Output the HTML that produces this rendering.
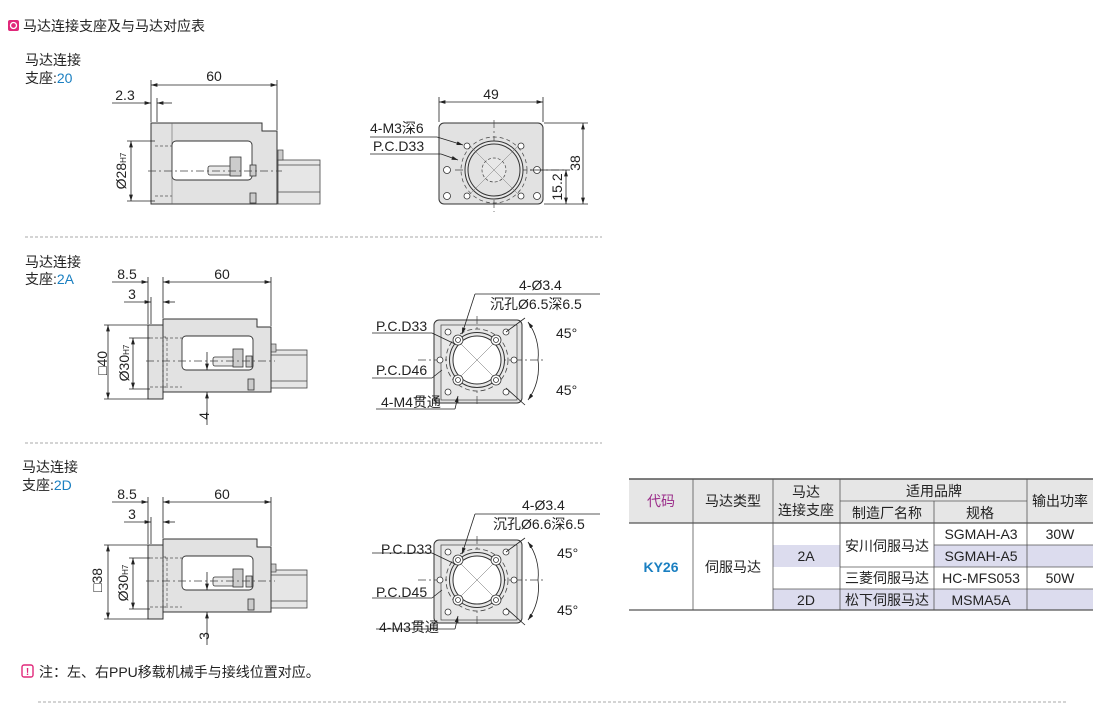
<!DOCTYPE html>
<html><head><meta charset="utf-8"><style>
html,body{margin:0;padding:0;background:#fff;}
body{width:1110px;height:715px;position:relative;overflow:hidden;font-family:"Liberation Sans","Noto Sans CJK SC",sans-serif;color:#222;}
svg{position:absolute;left:0;top:0;}
text{font-family:"Liberation Sans","Noto Sans CJK SC",sans-serif;fill:#222;}
</style></head><body>
<svg width="1110" height="715" viewBox="0 0 1110 715">
<defs>
<marker id="a" viewBox="0 0 10 6" refX="10" refY="3" markerWidth="8" markerHeight="5" orient="auto-start-reverse"><path d="M0,0L10,3L0,6z" fill="#222"/></marker>
<g id="side2">
  <!-- tube -->
  <rect x="271" y="350" width="36" height="38" fill="#e6e6e6" stroke="#444" stroke-width="0.8"/>
  <line x1="271" y1="355" x2="307" y2="355" stroke="#444" stroke-width="0.7"/>
  <line x1="271" y1="381" x2="307" y2="381" stroke="#444" stroke-width="0.7"/>
  <rect x="271" y="344" width="5" height="8" fill="#ccc" stroke="#444" stroke-width="0.7"/>
  <!-- flange -->
  <rect x="148" y="325" width="15" height="74" fill="#e2e2e2" stroke="#333" stroke-width="1"/>
  <!-- body -->
  <path d="M163,319 H257 V327 H271 V392 H163 Z" fill="#e2e2e2" stroke="#333" stroke-width="1"/>
  <rect x="182" y="336" width="71" height="34" rx="4" fill="#fff" stroke="#333" stroke-width="0.9"/>
  <line x1="150" y1="338" x2="182" y2="338" stroke="#555" stroke-width="0.8" stroke-dasharray="3,2"/>
  <line x1="150" y1="387" x2="182" y2="387" stroke="#555" stroke-width="0.8" stroke-dasharray="3,2"/>
  <rect x="163" y="337" width="4" height="50" fill="none" stroke="#555" stroke-width="0.7" stroke-dasharray="3,2"/>
  <rect x="213" y="357" width="22" height="9" rx="2" fill="#e8e8e8" stroke="#333" stroke-width="0.8"/>
  <rect x="233" y="349" width="10" height="18" fill="#ccc" stroke="#333" stroke-width="0.8"/>
  <rect x="246" y="356" width="6" height="11" fill="#ccc" stroke="#333" stroke-width="0.8"/>
  <rect x="248" y="379" width="6" height="11" fill="#ccc" stroke="#333" stroke-width="0.8"/>
  <line x1="146" y1="361" x2="275" y2="361" stroke="#444" stroke-width="0.8" stroke-dasharray="8,3,2,3"/>
  <!-- dims -->
  <g stroke="#222" stroke-width="0.8" fill="none">
    <line x1="148" y1="277" x2="148" y2="324"/><line x1="163" y1="277" x2="163" y2="318"/>
    <line x1="271" y1="277" x2="271" y2="326"/><line x1="151" y1="297" x2="151" y2="324"/>
    <line x1="112" y1="282" x2="148" y2="282" marker-end="url(#a)"/>
    <line x1="163" y1="282" x2="271" y2="282" marker-start="url(#a)" marker-end="url(#a)"/>
    <line x1="124" y1="302" x2="151" y2="302" marker-end="url(#a)"/>
    <line x1="175" y1="302" x2="163" y2="302" marker-end="url(#a)"/>
    <line x1="104" y1="325" x2="148" y2="325"/><line x1="104" y1="399" x2="148" y2="399"/>
    <line x1="108" y1="325" x2="108" y2="399" marker-start="url(#a)" marker-end="url(#a)"/>
    <line x1="129" y1="338" x2="150" y2="338"/><line x1="129" y1="389" x2="150" y2="389"/>
    <line x1="133" y1="338" x2="133" y2="389" marker-start="url(#a)" marker-end="url(#a)"/>
    <line x1="207" y1="352" x2="207" y2="370" marker-end="url(#a)"/>
    <line x1="207" y1="425" x2="207" y2="392" marker-end="url(#a)"/>
  </g>
  <!-- front view -->
  <rect x="434" y="320" width="88" height="83" rx="5" fill="#e2e2e2" stroke="#333" stroke-width="1"/>
  <rect x="441" y="325" width="76" height="75" fill="#e8e8e8" stroke="#444" stroke-width="0.7"/>
  <line x1="418" y1="360" x2="545" y2="360" stroke="#444" stroke-width="0.7" stroke-dasharray="8,3,2,3"/>
  <line x1="477" y1="316" x2="477" y2="407" stroke="#444" stroke-width="0.7" stroke-dasharray="8,3,2,3"/>
  <circle cx="477" cy="360" r="31" fill="none" stroke="#444" stroke-width="0.8" stroke-dasharray="5,3"/>
  <circle cx="477" cy="360" r="27.5" fill="#e8e8e8" stroke="#333" stroke-width="1"/>
  <circle cx="477" cy="360" r="24" fill="#fff" stroke="#333" stroke-width="1"/>
  <g stroke="#666" stroke-width="0.5"><line x1="460" y1="343" x2="494" y2="377"/><line x1="494" y1="343" x2="460" y2="377"/></g>
  <g fill="#fff" stroke="#333" stroke-width="0.8">
    <circle cx="458" cy="340" r="5"/><circle cx="496" cy="340" r="5"/><circle cx="458" cy="380" r="5"/><circle cx="496" cy="380" r="5"/>
    <circle cx="458" cy="340" r="2.5"/><circle cx="496" cy="340" r="2.5"/><circle cx="458" cy="380" r="2.5"/><circle cx="496" cy="380" r="2.5"/>
    <circle cx="448" cy="332" r="3"/><circle cx="506" cy="332" r="3"/><circle cx="448" cy="392" r="3"/><circle cx="506" cy="392" r="3"/>
    <circle cx="440" cy="360" r="3"/><circle cx="514" cy="360" r="3"/>
  </g>
  <g stroke="#222" stroke-width="0.8" fill="none">
    <line x1="475" y1="294" x2="600" y2="294"/><line x1="475" y1="294" x2="462" y2="334" marker-end="url(#a)"/>
    <line x1="372" y1="333" x2="432" y2="333"/><line x1="432" y1="333" x2="455" y2="344"/>
    <line x1="372" y1="378" x2="432" y2="378"/><line x1="432" y1="378" x2="442" y2="370"/>
    <line x1="376" y1="409" x2="455" y2="409"/><line x1="455" y1="409" x2="458" y2="396" marker-end="url(#a)"/>
    <line x1="506" y1="332" x2="525" y2="318"/><line x1="506" y1="388" x2="525" y2="405"/>
    <path d="M528,322 A55,55 0 0 1 538,360" marker-start="url(#a)"/>
    <path d="M538,360 A55,55 0 0 1 528,400" marker-end="url(#a)"/>
  </g>
</g>
</defs>

<!-- header -->
<rect x="8" y="20" width="11" height="11" rx="2" fill="#e0287a"/>
<circle cx="13.5" cy="25.5" r="3" fill="none" stroke="#fff" stroke-width="1.3"/>
<text x="23" y="31" font-size="14">马达连接支座及与马达对应表</text>

<!-- section 1 -->
<text x="25" y="65" font-size="14">马达连接</text>
<text x="25" y="83" font-size="14">支座:<tspan fill="#1a7fc1">20</tspan></text>
<rect x="278" y="160" width="42" height="44" fill="#e6e6e6" stroke="#444" stroke-width="0.8"/>
<line x1="278" y1="165" x2="320" y2="165" stroke="#444" stroke-width="0.7"/>
<line x1="278" y1="192" x2="320" y2="192" stroke="#444" stroke-width="0.7"/>
<rect x="278" y="150" width="5" height="10" fill="#ccc" stroke="#444" stroke-width="0.7"/>
<path d="M151,123 H262 V131 H277 V204 H151 Z" fill="#e2e2e2" stroke="#333" stroke-width="1"/>
<line x1="172" y1="123" x2="172" y2="204" stroke="#666" stroke-width="0.6"/>
<rect x="172" y="141" width="80" height="39" rx="4" fill="#fff" stroke="#333" stroke-width="0.9"/>
<line x1="155" y1="146" x2="172" y2="146" stroke="#555" stroke-width="0.8" stroke-dasharray="3,2"/>
<line x1="155" y1="196" x2="172" y2="196" stroke="#555" stroke-width="0.8" stroke-dasharray="3,2"/>
<rect x="208" y="166" width="24" height="9" rx="2" fill="#e8e8e8" stroke="#333" stroke-width="0.8"/>
<rect x="230" y="157" width="11" height="19" fill="#ccc" stroke="#333" stroke-width="0.8"/>
<rect x="250" y="165" width="6" height="11" fill="#ccc" stroke="#333" stroke-width="0.8"/>
<rect x="250" y="193" width="6" height="10" fill="#ccc" stroke="#333" stroke-width="0.8"/>
<line x1="148" y1="171" x2="282" y2="171" stroke="#444" stroke-width="0.8" stroke-dasharray="8,3,2,3"/>
<g stroke="#222" stroke-width="0.8" fill="none">
  <line x1="151" y1="80" x2="151" y2="122"/><line x1="277" y1="80" x2="277" y2="130"/><line x1="157" y1="98" x2="157" y2="122"/>
  <line x1="151" y1="85" x2="277" y2="85" marker-start="url(#a)" marker-end="url(#a)"/>
  <line x1="112" y1="103" x2="151" y2="103" marker-end="url(#a)"/>
  <line x1="172" y1="103" x2="157" y2="103" marker-end="url(#a)"/>
  <line x1="127" y1="141" x2="155" y2="141"/><line x1="127" y1="201" x2="155" y2="201"/>
  <line x1="131" y1="141" x2="131" y2="201" marker-start="url(#a)" marker-end="url(#a)"/>
</g>
<text x="214" y="81" font-size="14" text-anchor="middle">60</text>
<text x="125" y="100" font-size="14" text-anchor="middle">2.3</text>
<text transform="translate(126,171) rotate(-90)" font-size="14" text-anchor="middle">Ø28<tspan font-size="8">H7</tspan></text>
<!-- front 1 -->
<rect x="439" y="123" width="104" height="81" rx="5" fill="#e2e2e2" stroke="#333" stroke-width="1"/>
<line x1="455" y1="170" x2="565" y2="170" stroke="#444" stroke-width="0.7" stroke-dasharray="8,3,2,3"/>
<line x1="494" y1="120" x2="494" y2="212" stroke="#444" stroke-width="0.7" stroke-dasharray="8,3,2,3"/>
<circle cx="494" cy="170" r="33" fill="none" stroke="#444" stroke-width="0.7" stroke-dasharray="4,3"/>
<circle cx="494" cy="170" r="29" fill="#e8e8e8" stroke="#333" stroke-width="1"/>
<circle cx="494" cy="170" r="26" fill="#e2e2e2" stroke="#333" stroke-width="1"/>
<circle cx="494" cy="170" r="12" fill="#e8e8e8" stroke="#444" stroke-width="0.7" stroke-dasharray="3,2"/>
<g stroke="#777" stroke-width="0.5"><line x1="470" y1="146" x2="518" y2="194"/><line x1="518" y1="146" x2="470" y2="194"/></g>
<g fill="#fff" stroke="#333" stroke-width="0.8">
  <circle cx="467" cy="146" r="3"/><circle cx="521" cy="146" r="3"/><circle cx="467" cy="196" r="3"/><circle cx="521" cy="196" r="3"/>
  <circle cx="447" cy="170" r="3.5"/><circle cx="537" cy="170" r="3.5"/><circle cx="447" cy="196" r="3.5"/><circle cx="537" cy="196" r="3.5"/>
</g>
<g stroke="#222" stroke-width="0.8" fill="none">
  <line x1="439" y1="97" x2="439" y2="122"/><line x1="543" y1="97" x2="543" y2="122"/>
  <line x1="439" y1="102" x2="543" y2="102" marker-start="url(#a)" marker-end="url(#a)"/>
  <line x1="544" y1="123" x2="588" y2="123"/><line x1="544" y1="204" x2="588" y2="204"/><line x1="530" y1="170" x2="570" y2="170"/>
  <line x1="583" y1="123" x2="583" y2="204" marker-start="url(#a)" marker-end="url(#a)"/>
  <line x1="566" y1="170" x2="566" y2="204" marker-start="url(#a)" marker-end="url(#a)"/>
  <line x1="370" y1="137" x2="437" y2="137"/><line x1="437" y1="137" x2="463" y2="145" marker-end="url(#a)"/>
  <line x1="370" y1="154" x2="441" y2="154"/><line x1="441" y1="154" x2="458" y2="160" marker-end="url(#a)"/>
</g>
<text x="491" y="99" font-size="14" text-anchor="middle">49</text>
<text transform="translate(580,163) rotate(-90)" font-size="14" text-anchor="middle">38</text>
<text transform="translate(562,187) rotate(-90)" font-size="14" text-anchor="middle">15.2</text>
<text x="370" y="133" font-size="14">4-M3深6</text>
<text x="373" y="151" font-size="14">P.C.D33</text>

<line x1="25" y1="237" x2="602" y2="237" stroke="#aaa" stroke-dasharray="3,2"/>

<!-- section 2 -->
<text x="25" y="267" font-size="14">马达连接</text>
<text x="25" y="284" font-size="14">支座:<tspan fill="#1a7fc1">2A</tspan></text>
<use href="#side2"/>
<text x="127" y="279" font-size="14" text-anchor="middle">8.5</text>
<text x="222" y="279" font-size="14" text-anchor="middle">60</text>
<text x="132" y="299" font-size="14" text-anchor="middle">3</text>
<text transform="translate(107,363) rotate(-90)" font-size="14" text-anchor="middle">□40</text>
<text transform="translate(129,363) rotate(-90)" font-size="14" text-anchor="middle">Ø30<tspan font-size="8">H7</tspan></text>
<text transform="translate(209,416) rotate(-90)" font-size="14" text-anchor="middle">4</text>
<text x="519" y="290" font-size="14">4-Ø3.4</text>
<text x="490" y="309" font-size="14">沉孔Ø6.5深6.5</text>
<text x="376" y="331" font-size="14">P.C.D33</text>
<text x="376" y="375" font-size="14">P.C.D46</text>
<text x="381" y="407" font-size="14">4-M4贯通</text>
<text x="556" y="338" font-size="14">45°</text>
<text x="556" y="395" font-size="14">45°</text>

<line x1="25" y1="443" x2="602" y2="443" stroke="#aaa" stroke-dasharray="3,2"/>

<!-- section 3 -->
<text x="22" y="472" font-size="14">马达连接</text>
<text x="22" y="490" font-size="14">支座:<tspan fill="#1a7fc1">2D</tspan></text>
<use href="#side2" transform="translate(0,220)"/>
<text x="127" y="499" font-size="14" text-anchor="middle">8.5</text>
<text x="222" y="499" font-size="14" text-anchor="middle">60</text>
<text x="132" y="519" font-size="14" text-anchor="middle">3</text>
<text transform="translate(102,580) rotate(-90)" font-size="14" text-anchor="middle">□38</text>
<text transform="translate(128,583) rotate(-90)" font-size="14" text-anchor="middle">Ø30<tspan font-size="8">H7</tspan></text>
<text transform="translate(209,636) rotate(-90)" font-size="14" text-anchor="middle">3</text>
<text x="522" y="510" font-size="14">4-Ø3.4</text>
<text x="493" y="529" font-size="14">沉孔Ø6.6深6.5</text>
<text x="381" y="554" font-size="14">P.C.D33</text>
<text x="376" y="597" font-size="14">P.C.D45</text>
<text x="379" y="632" font-size="14">4-M3贯通</text>
<text x="557" y="558" font-size="14">45°</text>
<text x="557" y="615" font-size="14">45°</text>

<!-- table -->
<rect x="629" y="479" width="464" height="44" fill="#e6e6e6"/>
<rect x="773" y="545" width="67" height="22" fill="#dcdcee"/>
<rect x="934" y="545" width="159" height="22" fill="#dcdcee"/>
<rect x="773" y="589" width="320" height="21" fill="#dcdcee"/>
<g stroke="#555" stroke-width="0.8" fill="none">
  <line x1="629" y1="479" x2="1093" y2="479" stroke-width="1.5"/>
  <line x1="629" y1="523" x2="1093" y2="523" stroke-width="1.2"/>
  <line x1="629" y1="610" x2="1093" y2="610" stroke-width="1.2"/>
  <line x1="840" y1="501" x2="1027" y2="501"/>
  <line x1="934" y1="545" x2="1093" y2="545"/>
  <line x1="840" y1="567" x2="1093" y2="567"/>
  <line x1="773" y1="589" x2="1093" y2="589"/>
  <line x1="693" y1="479" x2="693" y2="610"/>
  <line x1="773" y1="479" x2="773" y2="610"/>
  <line x1="840" y1="479" x2="840" y2="610"/>
  <line x1="934" y1="501" x2="934" y2="610"/>
  <line x1="1027" y1="479" x2="1027" y2="610"/>
</g>
<g font-size="14" text-anchor="middle">
  <text x="661" y="506" style="fill:#9b2d8a">代码</text>
  <text x="733" y="506">马达类型</text>
  <text x="806" y="497">马达</text>
  <text x="806" y="515">连接支座</text>
  <text x="934" y="496">适用品牌</text>
  <text x="887" y="518">制造厂名称</text>
  <text x="980" y="518">规格</text>
  <text x="1060" y="506">输出功率</text>
  <text x="661" y="572" font-weight="bold" style="fill:#1a7fc1">KY26</text>
  <text x="733" y="572">伺服马达</text>
  <text x="806" y="561">2A</text>
  <text x="806" y="605">2D</text>
  <text x="887" y="551">安川伺服马达</text>
  <text x="887" y="583">三菱伺服马达</text>
  <text x="887" y="605">松下伺服马达</text>
  <text x="981" y="539">SGMAH-A3</text>
  <text x="981" y="561">SGMAH-A5</text>
  <text x="981" y="583">HC-MFS053</text>
  <text x="981" y="605">MSMA5A</text>
  <text x="1060" y="539">30W</text>
  <text x="1060" y="583">50W</text>
</g>

<!-- note -->
<rect x="22" y="665" width="11" height="12" rx="2" fill="none" stroke="#e0287a" stroke-width="1.4"/>
<text x="27.5" y="675" font-size="10" font-weight="bold" text-anchor="middle" style="fill:#e0287a">!</text>
<text x="39" y="677" font-size="14">注：左、右PPU移载机械手与接线位置对应。</text>
<line x1="38" y1="702" x2="1068" y2="702" stroke="#aaa" stroke-dasharray="3,2"/>
</svg>
</body></html>
